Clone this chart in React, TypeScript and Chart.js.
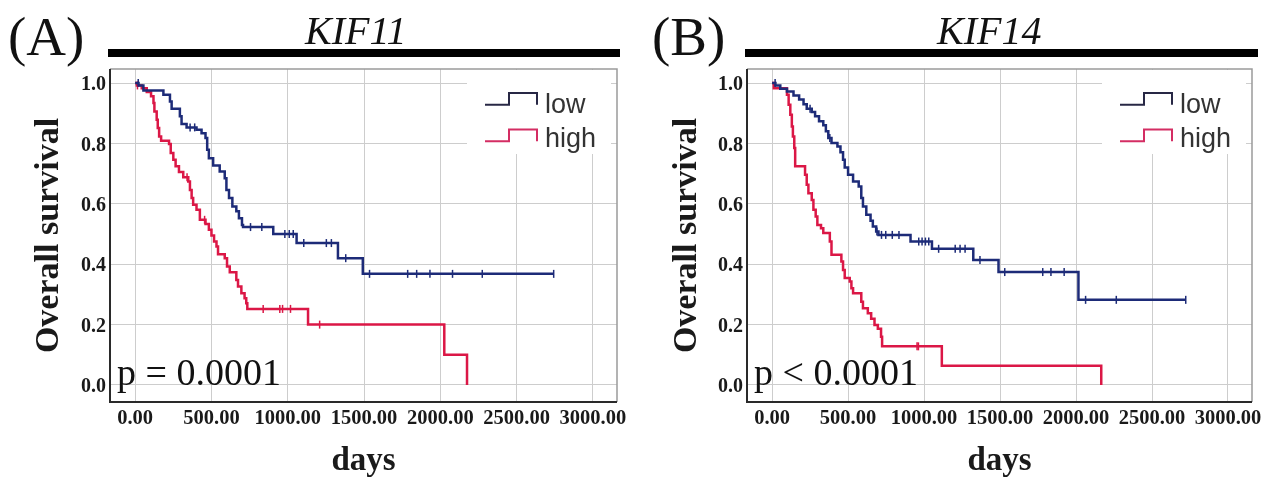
import React, { useEffect, useRef } from "react";
import { Chart, registerables } from "chart.js";

Chart.register(...registerables);

const SERIF = '"Liberation Serif", "Times New Roman", serif';
const SANS = '"Liberation Sans", Arial, sans-serif';

// ---- axes ----
const xTickValues = [0, 500, 1000, 1500, 2000, 2500, 3000];
const xTickLabels = ["0.00", "500.00", "1000.00", "1500.00", "2000.00", "2500.00", "3000.00"];
const yTickValues = [0, 0.2, 0.4, 0.6, 0.8, 1.0];
const yTickLabels = ["0.0", "0.2", "0.4", "0.6", "0.8", "1.0"];
const groupLabels = ["low", "high"];

// ---- (A) KIF11 ----
const kif11LowDays = [0, 22, 54, 185, 228, 239, 293, 304, 337, 402, 435, 461, 472, 483, 511, 554, 587, 598, 615, 637, 663, 680, 700, 707, 905, 1058, 1329, 1492, 2743];
const kif11LowSurv = [1.0, 0.992, 0.975, 0.961, 0.939, 0.915, 0.89, 0.864, 0.853, 0.845, 0.834, 0.818, 0.779, 0.751, 0.727, 0.707, 0.685, 0.646, 0.619, 0.591, 0.575, 0.552, 0.53, 0.523, 0.5, 0.47, 0.42, 0.368, 0.368];
const kif11LowCensored = [20, 360, 390, 756, 830, 981, 1010, 1036, 1105, 1253, 1286, 1380, 1536, 1786, 1845, 1932, 2080, 2275, 2743];

const kif11HighDays = [0, 11, 43, 76, 104, 120, 126, 141, 148, 157, 170, 222, 233, 250, 265, 287, 315, 348, 359, 370, 380, 402, 424, 461, 483, 500, 517, 533, 543, 587, 602, 620, 663, 674, 696, 717, 728, 735, 1133, 2026, 2175];
const kif11HighSurv = [1.0, 0.992, 0.983, 0.97, 0.956, 0.934, 0.906, 0.878, 0.851, 0.823, 0.809, 0.798, 0.768, 0.746, 0.724, 0.705, 0.688, 0.674, 0.646, 0.619, 0.597, 0.58, 0.547, 0.533, 0.514, 0.495, 0.475, 0.459, 0.433, 0.42, 0.392, 0.373, 0.348, 0.326, 0.304, 0.287, 0.271, 0.252, 0.2, 0.1, 0.0];
const kif11HighCensored = [15, 340, 455, 839, 948, 966, 1018, 1209];

// ---- (B) KIF14 ----
const kif14LowDays = [0, 22, 54, 98, 141, 178, 207, 228, 261, 283, 309, 337, 354, 370, 391, 430, 450, 467, 478, 500, 533, 570, 587, 598, 620, 648, 663, 685, 700, 911, 1052, 1324, 1490, 2016, 2722];
const kif14LowSurv = [1.0, 0.992, 0.981, 0.972, 0.959, 0.945, 0.93, 0.915, 0.904, 0.89, 0.873, 0.86, 0.84, 0.818, 0.801, 0.79, 0.771, 0.746, 0.72, 0.696, 0.674, 0.657, 0.619, 0.591, 0.564, 0.544, 0.525, 0.508, 0.497, 0.475, 0.451, 0.414, 0.374, 0.282, 0.282];
const kif14LowCensored = [20, 250, 380, 690, 720, 748, 791, 835, 965, 987, 1009, 1031, 1096, 1205, 1237, 1270, 1368, 1531, 1781, 1835, 1922, 2063, 2265, 2722];

const kif14HighDays = [0, 11, 98, 109, 120, 130, 137, 146, 152, 217, 228, 239, 261, 272, 287, 298, 322, 337, 380, 391, 456, 467, 478, 511, 522, 533, 587, 598, 630, 652, 674, 696, 717, 724, 1117, 2166];
const kif14HighSurv = [1.0, 0.983, 0.961, 0.928, 0.895, 0.856, 0.823, 0.785, 0.724, 0.696, 0.663, 0.635, 0.613, 0.58, 0.558, 0.53, 0.519, 0.503, 0.475, 0.431, 0.409, 0.381, 0.354, 0.343, 0.32, 0.304, 0.276, 0.254, 0.238, 0.219, 0.199, 0.186, 0.16, 0.128, 0.064, 0.0];
const kif14HighCensored = [954, 963];

const LOW_COLOR = "#1d2b78";
const HIGH_COLOR = "#db1746";
const LOW_ICON = "#282845";
const HIGH_ICON = "#d42d63";

function survivalAt(days: number[], surv: number[], t: number) {
  let s = surv[0];
  for (let i = 0; i < days.length; i++) if (days[i] <= t) s = surv[i];
  return s;
}

const decorPlugin = {
  id: "kmDecor",
  afterDraw(chart: any, _args: any, opts: any) {
    const { ctx, chartArea: a } = chart;
    ctx.save();
    // frame
    ctx.strokeStyle = "#9a9a9a";
    ctx.lineWidth = 1.5;
    ctx.beginPath();
    ctx.moveTo(a.left, a.top);
    ctx.lineTo(a.right, a.top);
    ctx.lineTo(a.right, a.bottom);
    ctx.stroke();
    ctx.strokeStyle = "#2a2a2a";
    ctx.lineWidth = 2;
    ctx.beginPath();
    ctx.moveTo(a.left, a.top);
    ctx.lineTo(a.left, a.bottom);
    ctx.lineTo(a.right, a.bottom);
    ctx.stroke();
    // legend
    ctx.fillStyle = "#ffffff";
    ctx.fillRect(a.right - 150, a.top + 1, 144, 84);
    (opts.items || []).forEach((it: any, i: number) => {
      const yLow = a.top + 35.7 + i * 36.6;
      const yHigh = yLow - 11.7;
      const x0 = a.right - 132;
      const x1 = x0 + 24;
      const x2 = x0 + 52;
      ctx.strokeStyle = it.color;
      ctx.lineWidth = 2;
      ctx.beginPath();
      ctx.moveTo(x0, yLow);
      ctx.lineTo(x1, yLow);
      ctx.lineTo(x1, yHigh);
      ctx.lineTo(x2, yHigh);
      ctx.lineTo(x2, yLow);
      ctx.stroke();
      ctx.fillStyle = "#333333";
      ctx.font = `27px ${SANS}`;
      ctx.textAlign = "left";
      ctx.textBaseline = "alphabetic";
      ctx.fillText(it.label, a.right - 72, a.top + 44 + i * 34);
    });
    // p value
    ctx.font = `38px ${SERIF}`;
    ctx.fillStyle = "#111111";
    ctx.textAlign = "left";
    ctx.textBaseline = "alphabetic";
    ctx.fillText(opts.pText, a.left + 7, chart.scales.y.getPixelForValue(0));
    ctx.restore();
  },
};

type PanelProps = {
  lowDays: number[];
  lowSurv: number[];
  lowCens: number[];
  highDays: number[];
  highSurv: number[];
  highCens: number[];
  pText: string;
  yWidth: number;
  padRight: number;
  yTitlePad: number;
};

function KMPanel(p: PanelProps) {
  const ref = useRef<HTMLCanvasElement | null>(null);
  useEffect(() => {
    if (!ref.current) return;
    const line = (d: number[], s: number[]) => d.map((x, i) => ({ x, y: s[i] }));
    const cens = (c: number[], d: number[], s: number[]) => c.map((x) => ({ x, y: survivalAt(d, s, x) }));
    const xTickFont = { family: SERIF, size: 20.5, weight: "bold" as const };
    const yTickFont = { family: SERIF, size: 20, weight: "bold" as const };
    const chart = new Chart(ref.current, {
      type: "line",
      data: {
        datasets: [
          {
            label: groupLabels[0],
            data: line(p.lowDays, p.lowSurv),
            stepped: "before",
            borderColor: LOW_COLOR,
            borderWidth: 2.5,
            pointRadius: 0,
            fill: false,
          },
          {
            label: groupLabels[1],
            data: line(p.highDays, p.highSurv),
            stepped: "before",
            borderColor: HIGH_COLOR,
            borderWidth: 2.5,
            pointRadius: 0,
            fill: false,
          },
          {
            type: "scatter",
            label: groupLabels[0] + " censored",
            data: cens(p.lowCens, p.lowDays, p.lowSurv),
            showLine: false,
            pointStyle: "line",
            pointRadius: 4,
            pointRotation: 90,
            pointBorderWidth: 1.5,
            pointBorderColor: LOW_COLOR,
            borderColor: LOW_COLOR,
          } as any,
          {
            type: "scatter",
            label: groupLabels[1] + " censored",
            data: cens(p.highCens, p.highDays, p.highSurv),
            showLine: false,
            pointStyle: "line",
            pointRadius: 4,
            pointRotation: 90,
            pointBorderWidth: 1.5,
            pointBorderColor: HIGH_COLOR,
            borderColor: HIGH_COLOR,
          } as any,
        ],
      },
      options: {
        responsive: false,
        animation: false,
        devicePixelRatio: 1,
        events: [],
        layout: { padding: { left: 0, top: 69, right: p.padRight, bottom: 0 } },
        plugins: {
          legend: { display: false },
          tooltip: { enabled: false },
          kmDecor: {
            pText: p.pText,
            items: [
              { label: groupLabels[0], color: LOW_ICON },
              { label: groupLabels[1], color: HIGH_ICON },
            ],
          },
        } as any,
        scales: {
          x: {
            type: "linear",
            min: -165,
            max: 3158,
            afterBuildTicks: (s: any) => {
              s.ticks = xTickValues.map((v) => ({ value: v }));
            },
            afterFit: (s: any) => {
              s.height = 77;
            },
            ticks: {
              callback: (_v: any, i: number) => xTickLabels[i],
              font: xTickFont,
              color: "#1a1a1a",
              padding: 4,
              maxRotation: 0,
              autoSkip: false,
            },
            grid: { color: "#cdcdcd", lineWidth: 1, drawTicks: false },
            border: { display: false },
            title: {
              display: true,
              text: "days",
              color: "#1a1a1a",
              font: { family: SERIF, size: 33, weight: "bold", lineHeight: 1 },
              padding: { top: 0, bottom: 1 },
            },
          },
          y: {
            type: "linear",
            min: -0.0563,
            max: 1.0464,
            afterBuildTicks: (s: any) => {
              s.ticks = yTickValues.map((v) => ({ value: v }));
            },
            afterFit: (s: any) => {
              s.width = p.yWidth;
            },
            ticks: {
              callback: (_v: any, i: number) => yTickLabels[i],
              font: yTickFont,
              color: "#1a1a1a",
              padding: 4,
              labelOffset: 2,
              autoSkip: false,
            },
            grid: { color: "#cdcdcd", lineWidth: 1, drawTicks: false },
            border: { display: false },
            title: {
              display: true,
              text: "Overall survival",
              color: "#1a1a1a",
              font: { family: SERIF, size: 34, weight: "bold" },
              padding: { top: p.yTitlePad, bottom: 0 },
            },
          },
        },
      },
      plugins: [decorPlugin as any],
    });
    return () => chart.destroy();
  }, []);
  return <canvas ref={ref} width={634} height={479} style={{ display: "block" }} />;
}

export default function App() {
  const abs = (extra: React.CSSProperties): React.CSSProperties => ({ position: "absolute", ...extra });
  return (
    <div style={abs({ left: 0, top: 0, width: 1268, height: 479, background: "#ffffff", overflow: "hidden" })}>
      <div style={abs({ left: 0, top: 0, width: 634, height: 479 })}>
        <KMPanel
          lowDays={kif11LowDays}
          lowSurv={kif11LowSurv}
          lowCens={kif11LowCensored}
          highDays={kif11HighDays}
          highSurv={kif11HighSurv}
          highCens={kif11HighCensored}
          pText="p = 0.0001"
          yWidth={110}
          padRight={17}
          yTitlePad={29}
        />
      </div>
      <div style={abs({ left: 634, top: 0, width: 634, height: 479 })}>
        <KMPanel
          lowDays={kif14LowDays}
          lowSurv={kif14LowSurv}
          lowCens={kif14LowCensored}
          highDays={kif14HighDays}
          highSurv={kif14HighSurv}
          highCens={kif14HighCensored}
          pText="p < 0.0001"
          yWidth={113}
          padRight={16}
          yTitlePad={33}
        />
      </div>
      <div style={abs({ left: 8, top: 9, fontFamily: SERIF, fontSize: 55, lineHeight: "55px", color: "#111", whiteSpace: "nowrap" })}>(A)</div>
      <div style={abs({ left: 305, top: 11, fontFamily: SERIF, fontStyle: "italic", fontSize: 40, lineHeight: "40px", color: "#111", whiteSpace: "nowrap" })}>KIF11</div>
      <div style={abs({ left: 108, top: 49, width: 512, height: 8, background: "#000" })} />
      <div style={abs({ left: 652, top: 9, fontFamily: SERIF, fontSize: 55, lineHeight: "55px", color: "#111", whiteSpace: "nowrap" })}>(B)</div>
      <div style={abs({ left: 937, top: 11, fontFamily: SERIF, fontStyle: "italic", fontSize: 40, lineHeight: "40px", color: "#111", whiteSpace: "nowrap" })}>KIF14</div>
      <div style={abs({ left: 745, top: 49, width: 513, height: 8, background: "#000" })} />
    </div>
  );
}
